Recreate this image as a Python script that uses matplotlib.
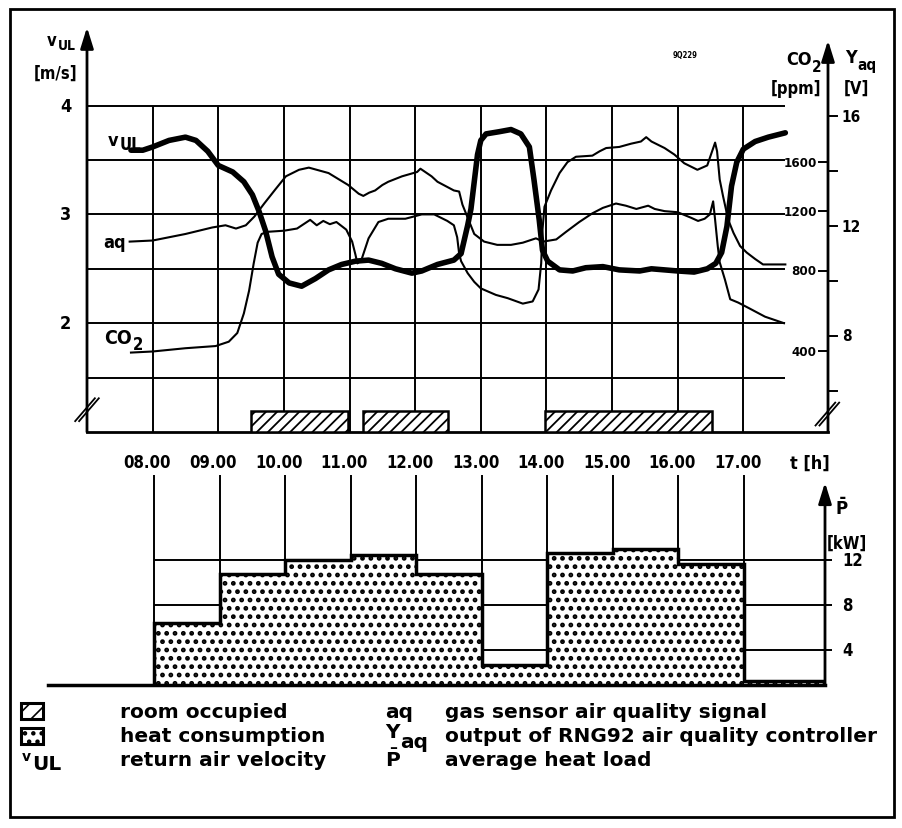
import numpy as np
import matplotlib
matplotlib.use('Agg')
import matplotlib.pyplot as plt
from matplotlib.patches import Rectangle

# ---- values ----
hours = [8, 9, 10, 11, 12, 13, 14, 15, 16, 17]
hour_labels = ['08.00', '09.00', '10.00', '11.00', '12.00',
               '13.00', '14.00', '15.00', '16.00', '17.00']

# return air velocity v_UL [m/s] (thick line)
vul_t = [7.67, 7.85, 8.0, 8.25, 8.5, 8.66, 8.84, 9.0, 9.22, 9.39,
         9.52, 9.62, 9.72, 9.82, 9.92, 10.08, 10.27, 10.48, 10.68, 10.88,
         11.09, 11.29, 11.49, 11.7, 11.95, 12.1, 12.34, 12.59, 12.7, 12.8,
         12.85, 12.9, 12.95, 13.0, 13.08, 13.28, 13.46, 13.61, 13.74, 13.81,
         13.89, 13.94, 14.02, 14.2, 14.4, 14.6, 14.86, 15.11, 15.42, 15.6,
         16.0, 16.25, 16.45, 16.58, 16.67, 16.75, 16.82, 16.9, 17.0, 17.18,
         17.38, 17.64]
vul = [3.59, 3.59, 3.62, 3.68, 3.71, 3.68, 3.58, 3.45, 3.39, 3.30,
       3.18, 3.03, 2.85, 2.61, 2.45, 2.37, 2.34, 2.41, 2.49, 2.54,
       2.57, 2.58, 2.55, 2.50, 2.46, 2.48, 2.54, 2.58, 2.64, 2.90,
       3.05, 3.30, 3.55, 3.68, 3.74, 3.76, 3.78, 3.74, 3.62, 3.32,
       2.95, 2.67, 2.57, 2.49, 2.48, 2.51, 2.52, 2.49, 2.48, 2.50,
       2.48, 2.47, 2.50, 2.55, 2.65, 2.89, 3.26, 3.48, 3.60, 3.67,
       3.71, 3.75]

# CO2 trace, drawn against the same grid (thin line)
co2_t = [7.67, 8.0, 8.5, 8.96, 9.16, 9.29, 9.39, 9.47, 9.54, 9.6,
         9.66, 9.75, 10.0, 10.2, 10.4, 10.5, 10.6, 10.7, 10.8, 10.95,
         11.04, 11.09, 11.12, 11.18, 11.29, 11.44, 11.59, 11.85, 12.1, 12.29,
         12.49, 12.59, 12.64, 12.67, 12.7, 12.8, 12.9, 13.0, 13.23, 13.41,
         13.64, 13.79, 13.88, 13.92, 13.94, 13.97, 14.07, 14.2, 14.32, 14.45,
         14.7, 14.81, 14.91, 15.11, 15.29, 15.44, 15.52, 15.6, 15.8, 15.95,
         16.1, 16.3, 16.45, 16.53, 16.57, 16.6, 16.64, 16.69, 16.77, 16.85,
         16.95, 17.05, 17.18, 17.3, 17.48, 17.64]
co2 = [1.73, 1.74, 1.77, 1.79, 1.83, 1.91, 2.09, 2.30, 2.55, 2.74,
       2.82, 2.84, 2.85, 2.87, 2.95, 2.90, 2.94, 2.91, 2.93, 2.86,
       2.75, 2.63, 2.55, 2.58, 2.78, 2.93, 2.96, 2.96, 3.00, 3.00,
       2.94, 2.90, 2.79, 2.64, 2.57, 2.46, 2.38, 2.32, 2.26, 2.23,
       2.18, 2.20, 2.31, 2.55, 2.86, 3.07, 3.22, 3.38, 3.48, 3.53,
       3.54, 3.58, 3.61, 3.62, 3.65, 3.67, 3.71, 3.67, 3.61, 3.55,
       3.47, 3.41, 3.45, 3.59, 3.66, 3.58, 3.32, 3.17, 2.95, 2.83,
       2.71, 2.65, 2.59, 2.54, 2.54, 2.54]

# gas sensor air quality signal aq (thin line)
aq_t = [7.65, 8.0, 8.5, 8.91, 9.11, 9.27, 9.42, 9.55, 9.7, 9.87,
        10.03, 10.23, 10.38, 10.68, 10.98, 11.14, 11.21, 11.3, 11.39, 11.5,
        11.59, 11.8, 12.03, 12.08, 12.25, 12.34, 12.59, 12.67, 12.72, 12.8,
        12.9, 13.05, 13.25, 13.46, 13.64, 13.84, 13.95, 14.15, 14.3, 14.5,
        14.7, 14.86, 15.06, 15.21, 15.37, 15.55, 15.65, 15.8, 16.0, 16.2,
        16.31, 16.41, 16.49, 16.54, 16.57, 16.61, 16.64, 16.72, 16.8, 16.92,
        17.08, 17.33, 17.62]
aq = [2.75, 2.76, 2.82, 2.88, 2.90, 2.87, 2.90, 2.98, 3.10, 3.23,
      3.35, 3.41, 3.43, 3.38, 3.27, 3.19, 3.17, 3.20, 3.22, 3.27,
      3.30, 3.35, 3.39, 3.42, 3.35, 3.30, 3.22, 3.21, 3.09, 2.97,
      2.82, 2.75, 2.72, 2.72, 2.74, 2.78, 2.75, 2.77, 2.84, 2.93,
      3.01, 3.06, 3.10, 3.08, 3.05, 3.08, 3.05, 3.03, 3.02, 2.97,
      2.94, 2.96, 3.00, 3.12, 2.95, 2.71, 2.56, 2.40, 2.22, 2.19,
      2.14, 2.06, 2.00]

# room occupied periods [h]
occ_start = [9.5, 11.2, 13.98]
occ_end = [10.98, 12.5, 16.52]

# hourly average heat load P [kW]
heat_edges = [8, 9, 10, 11, 12, 13, 14, 15, 16, 17, 18.24]
heat_kw = [6.4, 10.75, 12.0, 12.5, 10.75, 2.65, 12.6, 13.0, 11.65, 1.3]

# right hand scales
co2_labels = ['1600', '1200', '800', '400']
co2_pos = [3.48, 3.03, 2.48, 1.74]      # where they sit on the v_UL grid
yaq_ticks = [6, 8, 10, 12, 14, 16]
yaq_labels = [8, 12, 16]


def yaq_to_v(volt):
    return 1.884 + (np.asarray(volt, dtype=float) - 8) / 3.968


W, H = 903, 829
COND = ['Liberation Sans Narrow', 'DejaVu Sans']
LEG = ['DejaVu Sans']


def box(l, t, r, b):
    return [l / W, 1 - b / H, (r - l) / W, (b - t) / H]


fig = plt.figure(figsize=(W / 100, H / 100), dpi=100)
fig.patch.set_facecolor('white')

# background axes in pixel units for frame, titles and legend
bg = fig.add_axes([0, 0, 1, 1])
bg.set_xlim(0, W)
bg.set_ylim(H, 0)
bg.axis('off')
bg.add_patch(Rectangle((10, 10), 884, 808, fill=False, lw=2, ec='k'))


def btxt(x, y, s, size, fam=COND, **kw):
    kw.setdefault('va', 'center')
    kw.setdefault('ha', 'left')
    if fam is COND:
        kw.setdefault('fontstretch', 'condensed')
    return bg.text(x, y, s, fontsize=size, family=fam, fontweight='bold', **kw)


def sub(base, s, size, fam=COND, dy=-3):
    extra = {'fontstretch': 'condensed'} if fam is COND else {}
    return bg.annotate(s, xy=(1, 0), xycoords=base, xytext=(0.5, dy),
                       textcoords='offset points', ha='left', va='bottom',
                       fontsize=size, family=fam, fontweight='bold', **extra)


lab_kw = dict(family=COND, fontweight='bold', fontstretch='condensed')
arrow = dict(arrowstyle='-|>,head_length=0.9,head_width=0.28', color='k',
             lw=2, mutation_scale=14, shrinkA=0, shrinkB=0)

# ---------------- upper chart ----------------
ax = fig.add_axes(box(87, 25, 828, 433))
ax.set_xlim(7.0, 18.29)
ax.set_ylim(1.0, 4.75)
ax.axis('off')

ax.hlines([1.5, 2.0, 2.5, 3.0, 3.5, 4.0], 6.88, 17.63, color='k', lw=1.4)
ax.vlines(hours, 1.0, 4.0, color='k', lw=1.4)
ax.plot([7.0, 18.29], [1.0, 1.0], color='k', lw=2, clip_on=False)
ax.annotate('', xy=(7.0, 4.72), xytext=(7.0, 1.0), arrowprops=arrow,
            annotation_clip=False)
ax.annotate('', xy=(18.29, 4.6), xytext=(18.29, 1.0), arrowprops=arrow,
            annotation_clip=False)

# axis breaks
for dx in (0.0, 0.06):
    ax.plot([6.82 + dx, 7.12 + dx], [1.10, 1.31], color='k', lw=1.3, clip_on=False)
    ax.plot([18.10 + dx, 18.40 + dx], [1.06, 1.27], color='k', lw=1.3, clip_on=False)

with plt.rc_context({'hatch.linewidth': 1.3}):
    ax.bar(occ_start, 0.19, width=np.subtract(occ_end, occ_start), bottom=1.0,
           align='edge', facecolor='white', edgecolor='k', lw=1.8, hatch='///',
           zorder=3)

ax.plot(co2_t, co2, color='k', lw=1.5, zorder=4)
ax.plot(aq_t, aq, color='k', lw=1.5, zorder=4)
ax.plot(vul_t, vul, color='k', lw=4, solid_capstyle='round', zorder=5)

# left scale
for v in (4, 3, 2):
    ax.text(6.76, v, str(v), ha='right', va='center', fontsize=13, **lab_kw)

# right scales: CO2 ticks inside, Y_aq ticks outside
for lab, p in zip(co2_labels, co2_pos):
    ax.plot([18.16, 18.29], [p, p], color='k', lw=1.4, clip_on=False)
    ax.text(18.12, p, lab, ha='right', va='center', fontsize=9.5, **lab_kw)
for vv in yaq_to_v(yaq_ticks):
    ax.plot([18.29, 18.42], [vv, vv], color='k', lw=1.4, clip_on=False)
for lab in yaq_labels:
    ax.text(18.5, yaq_to_v(lab), str(lab), ha='left', va='center',
            fontsize=11, **lab_kw)

# time axis labels
for h, lab in zip(hours, hour_labels):
    ax.text(h - 0.08, 0.72, lab, ha='center', va='center', fontsize=12,
            clip_on=False, **lab_kw)
ax.text(18.02, 0.72, 't [h]', ha='center', va='center', fontsize=13, **lab_kw)

# ---------------- lower chart ----------------
ax2 = fig.add_axes(box(48, 476, 825, 686))
ax2.set_xlim(6.38, 18.24)
ax2.set_ylim(0.9, 19.57)
ax2.axis('off')

ax2.hlines([4, 8, 12], 8, 18.35, color='k', lw=1.4, zorder=1, clip_on=False)
ax2.vlines(hours, 0.9, 19.57, color='k', lw=1.4, zorder=1)
with plt.rc_context({'hatch.linewidth': 2.2}):
    ax2.stairs(heat_kw, heat_edges, baseline=0.9, fill=True,
               facecolor='white', edgecolor='k', lw=2.5, hatch='..', zorder=2)
ax2.plot([6.38, 18.24], [0.9, 0.9], color='k', lw=2.5, clip_on=False, zorder=3)
ax2.annotate('', xy=(18.24, 18.9), xytext=(18.24, 0.9), arrowprops=arrow,
             annotation_clip=False)
for k in (12, 8, 4):
    ax2.text(18.5, k, str(k), ha='left', va='center', fontsize=12,
             clip_on=False, **lab_kw)

# ---------------- titles and labels ----------------
t = btxt(47, 41, 'v', 12)
sub(t, 'UL', 10, dy=-2)
btxt(56, 74, '[m/s]', 12, ha='center')

t = btxt(108, 141, 'v', 13)
sub(t, 'UL', 12, dy=-3)
btxt(103, 243, 'aq', 13)
t = btxt(104, 338, 'CO', 14)
sub(t, '2', 12, dy=-5)

t = btxt(786, 60, 'CO', 13)
sub(t, '2', 11, dy=-4)
btxt(796, 89, '[ppm]', 12, ha='center')
t = btxt(845, 58, 'Y', 13)
sub(t, 'aq', 11, dy=-4)
btxt(856, 89, '[V]', 12, ha='center')
btxt(685, 55, '9Q229', 5.5, ha='center')

btxt(835, 508, r'$\mathbf{\bar{P}}$', 12)
btxt(847, 544, '[kW]', 12, ha='center')

# ---------------- legend ----------------
with plt.rc_context({'hatch.linewidth': 1.2}):
    bg.add_patch(Rectangle((21, 704), 22, 16, facecolor='white', edgecolor='k',
                           lw=2.2, hatch='//'))
with plt.rc_context({'hatch.linewidth': 2.0}):
    bg.add_patch(Rectangle((21, 729), 22, 16, facecolor='white', edgecolor='k',
                           lw=2.2, hatch='..'))

LS = 14.5
btxt(120, 712, 'room occupied', LS, fam=LEG)
btxt(120, 737, 'heat consumption', LS, fam=LEG)
btxt(120, 761, 'return air velocity', LS, fam=LEG)
t = btxt(22, 757, 'v', 10, fam=LEG)
bg.annotate('UL', xy=(1, 0), xycoords=t, xytext=(0.5, -7),
            textcoords='offset points', ha='left', va='bottom', fontsize=LS,
            family=LEG, fontweight='bold')

btxt(385, 712, 'aq', LS, fam=LEG)
t = btxt(385, 733, 'Y', LS, fam=LEG)
sub(t, 'aq', LS, fam=LEG, dy=-7)
btxt(385, 760, r'$\mathbf{\bar{P}}$', LS, fam=LEG)
btxt(445, 712, 'gas sensor air quality signal', LS, fam=LEG)
btxt(445, 737, 'output of RNG92 air quality controller', LS, fam=LEG)
btxt(445, 761, 'average heat load', LS, fam=LEG)

fig.savefig('out.png', dpi=100)
